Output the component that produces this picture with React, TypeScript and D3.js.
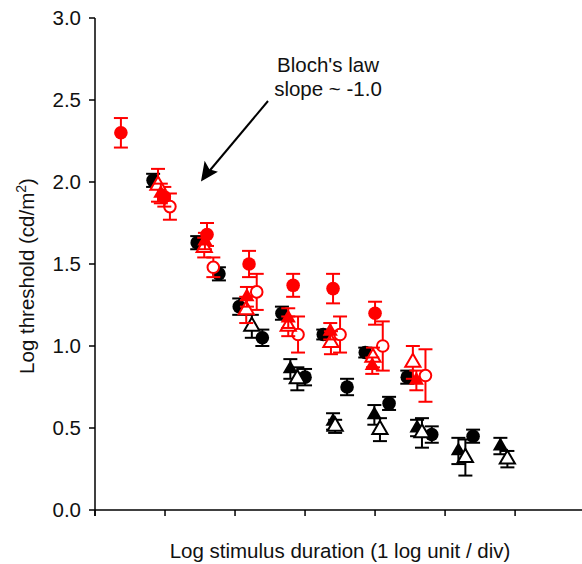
import React from "react";
import * as d3 from "d3";

// x in log units (1 per division), y in log cd/m2, e = half error
const redFilledCircleX = [0.37, 0.99, 1.6, 2.2, 2.83, 3.4, 4.0];
const redFilledCircleY = [2.3, 1.91, 1.68, 1.5, 1.37, 1.35, 1.2];
const redFilledCircleE = [0.09, 0.06, 0.07, 0.08, 0.07, 0.09, 0.07];

const redOpenCircleX = [1.07, 1.69, 2.31, 2.9, 3.5, 4.11, 4.72];
const redOpenCircleY = [1.85, 1.48, 1.33, 1.07, 1.07, 1.0, 0.82];
const redOpenCircleE = [0.08, 0.06, 0.11, 0.11, 0.11, 0.15, 0.16];

const redFilledTriX = [0.94, 1.57, 2.17, 2.76, 3.36, 3.96, 4.59];
const redFilledTriY = [1.93, 1.64, 1.3, 1.17, 1.09, 0.88, 0.79];
const redFilledTriE = [0.06, 0.05, 0.06, 0.06, 0.05, 0.05, 0.06];

const redOpenTriX = [0.9, 1.56, 2.16, 2.76, 3.37, 3.97, 4.54];
const redOpenTriY = [1.98, 1.6, 1.22, 1.12, 1.02, 0.93, 0.9];
const redOpenTriE = [0.1, 0.06, 0.08, 0.06, 0.07, 0.06, 0.1];

const blackCircleAX = [0.83, 1.46, 2.06, 2.67, 3.26, 3.86, 4.46];
const blackCircleAY = [2.01, 1.63, 1.24, 1.2, 1.07, 0.96, 0.81];
const blackCircleAE = [0.04, 0.04, 0.05, 0.04, 0.03, 0.03, 0.04];

const blackCircleBX = [1.77, 2.39, 3.0, 3.6, 4.2, 4.81, 5.4];
const blackCircleBY = [1.44, 1.05, 0.81, 0.75, 0.65, 0.46, 0.45];
const blackCircleBE = [0.04, 0.05, 0.05, 0.05, 0.04, 0.05, 0.04];

const blackFilledTriX = [2.79, 3.4, 3.99, 4.6, 5.19, 5.79];
const blackFilledTriY = [0.86, 0.54, 0.58, 0.5, 0.36, 0.39];
const blackFilledTriE = [0.06, 0.05, 0.06, 0.05, 0.08, 0.05];

const blackOpenTriX = [2.24, 2.89, 3.43, 4.07, 4.67, 5.29, 5.89];
const blackOpenTriY = [1.12, 0.8, 0.51, 0.49, 0.47, 0.32, 0.31];
const blackOpenTriE = [0.07, 0.07, 0.04, 0.07, 0.09, 0.11, 0.05];

const yTicks = [0, 0.5, 1.0, 1.5, 2.0, 2.5, 3.0];
const xTicks = [0, 1, 2, 3, 4, 5, 6];

const RED = "#ff0000";
const BLACK = "#000000";

type Series = {
  xs: number[];
  ys: number[];
  es: number[];
  color: string;
  shape: "circle" | "triangle";
  filled: boolean;
};

const series: Series[] = [
  { xs: blackCircleAX, ys: blackCircleAY, es: blackCircleAE, color: BLACK, shape: "circle", filled: true },
  { xs: blackCircleBX, ys: blackCircleBY, es: blackCircleBE, color: BLACK, shape: "circle", filled: true },
  { xs: blackFilledTriX, ys: blackFilledTriY, es: blackFilledTriE, color: BLACK, shape: "triangle", filled: true },
  { xs: blackOpenTriX, ys: blackOpenTriY, es: blackOpenTriE, color: BLACK, shape: "triangle", filled: false },
  { xs: redOpenCircleX, ys: redOpenCircleY, es: redOpenCircleE, color: RED, shape: "circle", filled: false },
  { xs: redFilledCircleX, ys: redFilledCircleY, es: redFilledCircleE, color: RED, shape: "circle", filled: true },
  { xs: redOpenTriX, ys: redOpenTriY, es: redOpenTriE, color: RED, shape: "triangle", filled: false },
  { xs: redFilledTriX, ys: redFilledTriY, es: redFilledTriE, color: RED, shape: "triangle", filled: true },
];

const W = 582;
const H = 564;
const FONT = "'Liberation Sans', Arial, sans-serif";
const FS = 20.5;

export default function App() {
  const x = d3.scaleLinear().domain([0, 6.97]).range([95, 583]);
  const y = d3.scaleLinear().domain([0, 3]).range([510, 18]);
  const circleR = 6.8;
  const tri = d3.symbol().type(d3.symbolTriangle).size(100);
  const cap = 7;

  return (
    <svg width={W} height={H} style={{ position: "absolute", left: 0, top: 0, background: "#fff" }}>
      {/* axes */}
      <line x1={x(0)} x2={x(0)} y1={y(3)} y2={y(0) + 6} stroke="#000" strokeWidth={1.5} />
      <line x1={x(0)} x2={583} y1={y(0)} y2={y(0)} stroke="#000" strokeWidth={1.5} />
      {yTicks.map((t) => (
        <g key={"yt" + t}>
          <line x1={x(0) - 6} x2={x(0)} y1={y(t)} y2={y(t)} stroke="#000" strokeWidth={1.5} />
          <text x={x(0) - 14} y={y(t)} dy="0.36em" textAnchor="end" fontFamily={FONT} fontSize={FS} fill="#111">
            {t.toFixed(1)}
          </text>
        </g>
      ))}
      {xTicks.map((t) => (
        <line key={"xt" + t} x1={x(t)} x2={x(t)} y1={y(0)} y2={y(0) + 6} stroke="#000" strokeWidth={1.5} />
      ))}
      <text
        transform={`translate(27, 276) rotate(-90)`}
        textAnchor="middle"
        dy="0.36em"
        fontFamily={FONT}
        fontSize={FS}
        fill="#111"
      >
        Log threshold (cd/m
        <tspan dy="-8" fontSize={14}>2</tspan>
        <tspan dy="8">)</tspan>
      </text>
      <text x={340} y={558} textAnchor="middle" fontFamily={FONT} fontSize={FS} fill="#111">
        Log stimulus duration (1 log unit / div)
      </text>

      {/* annotation */}
      <text x={328} y={72} textAnchor="middle" fontFamily={FONT} fontSize={FS} fill="#111">
        Bloch's law
      </text>
      <text x={328} y={96} textAnchor="middle" fontFamily={FONT} fontSize={FS} fill="#111">
        slope ~ -1.0
      </text>
      <line x1={268} y1={101} x2={206} y2={175} stroke="#000" strokeWidth={2} />
      <path d="M202,180 L205,163 L209,170 L216,172 Z" fill="#000" stroke="#000" strokeWidth={1.5} strokeLinejoin="miter" />

      {/* data */}
      {series.map((s, si) => (
        <g key={"s" + si}>
          {s.xs.map((xv, i) => {
            const cx = x(xv);
            const cy = y(s.ys[i]);
            const top = y(s.ys[i] + s.es[i]);
            const bot = y(s.ys[i] - s.es[i]);
            return (
              <g key={i}>
                <line x1={cx} x2={cx} y1={top} y2={bot} stroke={s.color} strokeWidth={2} />
                <line x1={cx - cap} x2={cx + cap} y1={top} y2={top} stroke={s.color} strokeWidth={2} />
                <line x1={cx - cap} x2={cx + cap} y1={bot} y2={bot} stroke={s.color} strokeWidth={2} />
                {s.shape === "circle" ? (
                  <circle
                    cx={cx}
                    cy={cy}
                    r={s.filled ? circleR : circleR - 1}
                    fill={s.filled ? s.color : "#fff"}
                    stroke={s.color}
                    strokeWidth={s.filled ? 0 : 2}
                  />
                ) : (
                  <path
                    d={tri() as string}
                    transform={`translate(${cx},${cy})`}
                    fill={s.filled ? s.color : "#fff"}
                    stroke={s.color}
                    strokeWidth={s.filled ? 0 : 2}
                  />
                )}
              </g>
            );
          })}
        </g>
      ))}
    </svg>
  );
}
